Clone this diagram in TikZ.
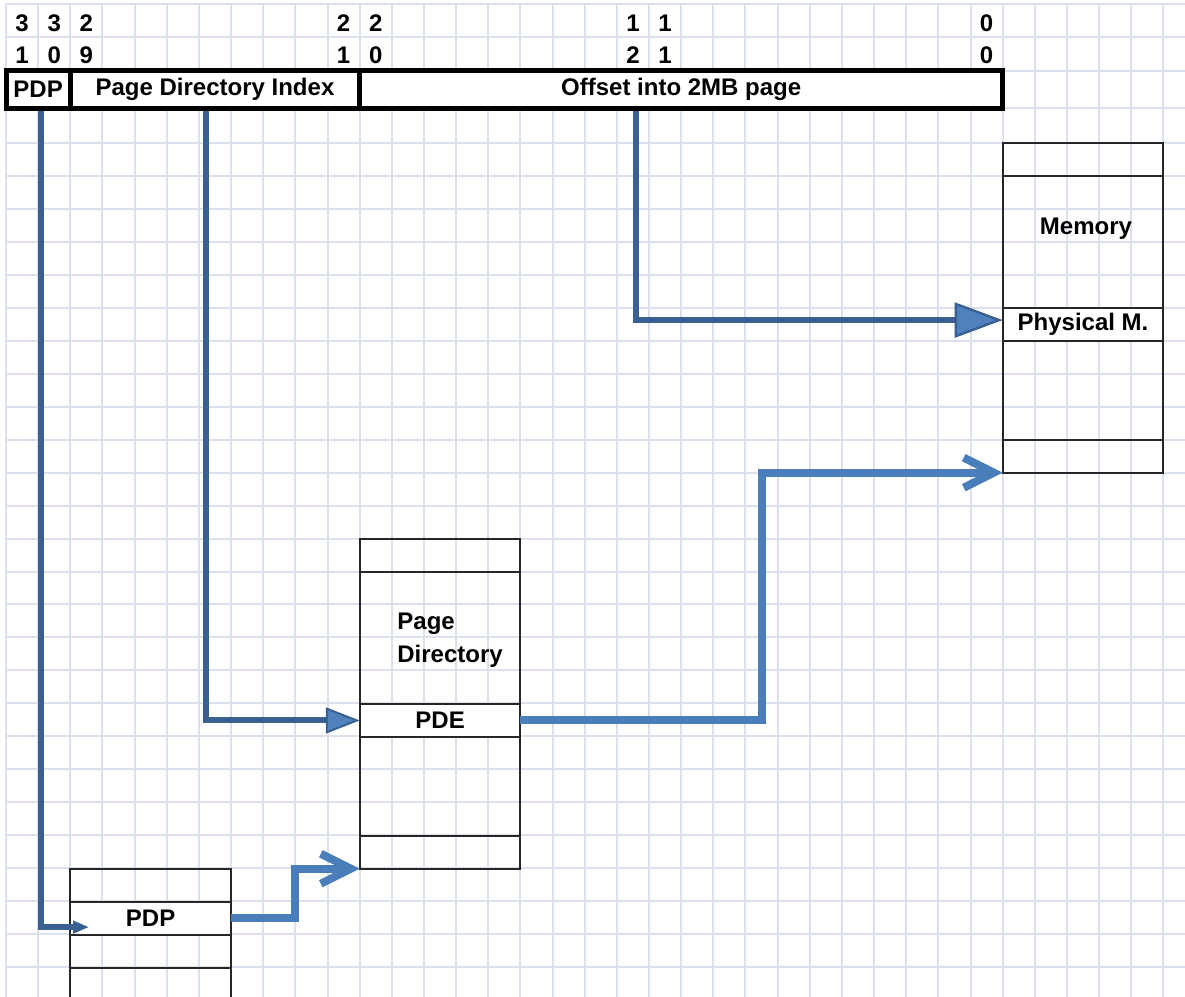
\documentclass[tikz,border=0pt]{standalone}
\usepackage{fontspec}
\setmainfont{Liberation Sans}
\usetikzlibrary{positioning,arrows.meta,calc}

\definecolor{gridblue}{RGB}{219,224,237}
\definecolor{linkdark}{RGB}{58,95,145}
\definecolor{linklight}{RGB}{74,126,187}
\definecolor{headfill}{RGB}{79,129,189}
\newcommand{\lblfont}{\fontsize{12}{14.4}\selectfont\bfseries}

\begin{document}
\begin{tikzpicture}[x=0.5pt,y=-0.5pt,
    gridline/.style={draw=gridblue,line width=1pt},
    field/.style={draw,line width=2.5pt,fill=white,inner sep=0pt,outer sep=0pt,minimum height=18.9pt,font=\lblfont},
    bitno/.style={inner sep=0pt,font=\lblfont},
    cell/.style={draw=black!85,line width=1pt,inner sep=0pt,outer sep=0pt,minimum width=80.35pt,minimum height=16.47pt,font=\lblfont},
    entry/.style={cell,fill=white},
    tall/.style={cell,minimum height=#1*16.47pt},
    tag/.style={inner sep=0pt,font=\lblfont},
    darklink/.style={draw=linkdark,line width=3pt},
    lightlink/.style={draw=linklight,line width=4pt,-{Straight Barb[length=15pt,width=15pt]}}]
  \useasboundingbox (0,0) rectangle (1185,997);
  \fill[white] (0,0) rectangle (1185,997);
  \clip (0,0) rectangle (1185,997);
  % squared paper
  \foreach \i in {0,...,36}
    \draw[gridline] ({6+32.15*\i},4) -- ({6+32.15*\i},997);
  \foreach \y in {4,36.7,70.5,108.3}
    \draw[gridline] (6,\y) -- (1185,\y);
  \foreach \j in {0,...,26}
    \draw[gridline] (6,{143.3+32.94*\j}) -- (1185,{143.3+32.94*\j});
  % bit numbers
  \foreach \c/\hi/\lo in {0/3/1,1/3/0,2/2/9,10/2/1,11/2/0,19/1/2,20/1/1,30/0/0} {
    \node[bitno] (hi\c) at ({22.1+32.15*\c},23) {\hi};
    \node[bitno] (lo\c) at ({22.1+32.15*\c},55) {\lo};
  }
  % linear address
  \node[field,minimum width=32.15pt] (pdpf) at (38.15,89.4) {PDP};
  \node[field,minimum width=144.7pt] (dirf) at (215,89.4) {Page Directory Index};
  \node[field,minimum width=321.5pt] (offf) at (681.2,89.4) {Offset into 2MB page};
  % memory
  \node[cell] (memtop) at (1083.05,159.77) {};
  \node[tall=4,below=0pt of memtop] (memarea) {};
  \node[entry,below=0pt of memarea] (phys) {Physical M.};
  \node[tall=3,below=0pt of phys] (memrest) {};
  \node[cell,below=0pt of memrest] (membot) {};
  \node[tag] (memtxt) at (1086,229) {Memory};
  % page directory
  \node[cell] (pdtop) at (440.1,555.77) {};
  \node[tall=4,below=0pt of pdtop] (pdarea) {};
  \node[entry,below=0pt of pdarea] (pde) {PDE};
  \node[tall=3,below=0pt of pde] (pdrest) {};
  \node[cell,below=0pt of pdrest] (pdbot) {};
  \node[tag,align=left,anchor=west,font=\bfseries\fontsize{12}{16.5}\selectfont] (pdtxt) at (397,640) {Page\\Directory};
  % pdp table
  \node[cell] (pdptop) at (150.65,885.17) {};
  \node[entry,below=0pt of pdptop] (pdpent) {PDP};
  \node[cell,below=0pt of pdpent] (pdprow) {};
  \node[tall=2,below=0pt of pdprow] (pdptail) {};
  % links
  \draw[darklink,-{Triangle[length=8pt,width=6pt]}]
    ([xshift=1.4pt,yshift=-1.25pt]pdpf.south) |- ([shift={(9.4pt,-4.5pt)}]pdpent.west);
  \draw[darklink,-{Triangle[length=17pt,width=13pt,fill=headfill,line width=1pt]}]
    ([xshift=-4.5pt,yshift=-1.25pt]dirf.south) |- (pde.west);
  \draw[darklink,-{Triangle[length=24pt,width=17.5pt,fill=headfill,line width=1.2pt]}]
    ([xshift=-22.6pt,yshift=-1.25pt]offf.south) |- ([yshift=2.2pt]phys.west);
  \draw[lightlink] (pde.east) -| ($(pde.east)!.5!(membot.south west)$) |- (membot.south west);
  \draw[lightlink] (pdpent.east) -| ($(pdpent.east)!.5!(pdbot.south west)$) |- (pdbot.south west);
\end{tikzpicture}
\end{document}
